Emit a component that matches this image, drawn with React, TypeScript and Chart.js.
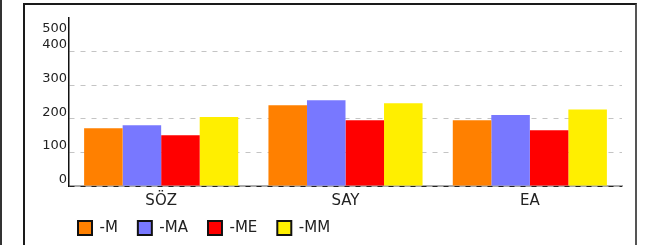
import React, { useEffect, useRef } from "react";
import { Chart, registerables } from "chart.js";

Chart.register(...registerables);

const categories = ["SÖZ", "SAY", "EA"];
const seriesNames = ["-M", "-MA", "-ME", "-MM"];
const seriesM = [172, 240, 196];
const seriesMA = [181, 255, 211];
const seriesME = [151, 196, 166];
const seriesMM = [205, 246, 228];
const seriesColors = ["#FF8000", "#7878FF", "#FF0000", "#FFEF00"];
const yMin = 0;
const yMax = 500;
const yStep = 100;

const FONT = "'DejaVu Sans', sans-serif";
const TEXT = "#222";

const legendPlacer = {
  id: "legendPlacer",
  afterLayout(chart: any) {
    const lg = chart.legend;
    if (!lg) return;
    const w = lg.right - lg.left;
    const h = lg.bottom - lg.top;
    lg.left = chart.chartArea.left - 11;
    lg.right = lg.left + w;
    lg.top = chart.chartArea.bottom + 14.5;
    lg.bottom = lg.top + h;
  },
};

export default function App() {
  const ref = useRef<HTMLCanvasElement | null>(null);

  useEffect(() => {
    const canvas = ref.current;
    if (!canvas) return;
    const values = [seriesM, seriesMA, seriesME, seriesMM];
    const chart = new Chart(canvas, {
      type: "bar",
      data: {
        labels: categories,
        datasets: values.map((v, i) => ({
          label: seriesNames[i],
          data: v,
          backgroundColor: seriesColors[i],
          borderWidth: 0,
          categoryPercentage: 0.836,
          barPercentage: 1.0,
        })),
      },
      plugins: [legendPlacer],
      options: {
        animation: false,
        responsive: false,
        devicePixelRatio: 1,
        layout: { padding: { left: 10, top: 13, right: 13, bottom: 12 } },
        plugins: {
          tooltip: { enabled: false },
          legend: {
            position: "bottom",
            align: "start",
            labels: {
              boxWidth: 14,
              boxHeight: 14,
              padding: 20,
              color: TEXT,
              font: { family: FONT, size: 15 },
              generateLabels: (ch: any) =>
                Chart.defaults.plugins.legend.labels
                  .generateLabels(ch)
                  .map((l: any) => ({ ...l, lineWidth: 2, strokeStyle: "#111" })),
            },
          },
        },
        scales: {
          x: {
            offset: true,
            grid: { display: false },
            border: { display: true, color: "#aaa", width: 2 },
            ticks: { color: TEXT, font: { family: FONT, size: 15 }, padding: -2 },
            afterFit: (s: any) => {
              s.height = 22;
              s.paddingLeft = 0;
              s.paddingRight = 0;
            },
          },
          y: {
            min: yMin,
            max: yMax,
            grid: {
              z: 0,
              drawTicks: false,
              color: (c: any) =>
                c.tick && c.tick.value === yMin
                  ? "#222"
                  : c.tick && c.tick.value === yMax
                  ? "rgba(0,0,0,0)"
                  : "#c4c4c4",
              lineWidth: (c: any) => (c.tick && c.tick.value === yMin ? 1 : 1),
            },
            border: { display: true, color: "#111", width: 1.5, dash: [5, 6] },
            ticks: {
              stepSize: yStep,
              autoSkip: false,
              color: TEXT,
              padding: 2,
              labelOffset: -6.5,
              font: { family: FONT, size: 13, lineHeight: "17px" },
              callback: (v: any) => (v === yMax ? ["", "", String(v)] : String(v)),
            },
            afterFit: (s: any) => {
              s.width = 34;
              s.paddingTop = 0;
              s.paddingBottom = 0;
            },
          },
        },
      },
    });
    return () => chart.destroy();
  }, []);

  return (
    <div
      style={{
        position: "fixed",
        left: 0,
        top: 0,
        width: 649,
        height: 245,
        overflow: "hidden",
        background: "#fff",
      }}
    >
      <div style={{ position: "absolute", left: 0, top: 0, width: 2, height: 245, background: "#333" }} />
      <div
        style={{
          position: "absolute",
          left: 23,
          top: 3,
          width: 614,
          height: 280,
          border: "2px solid #1a1a1a",
          borderRightColor: "#555",
          boxSizing: "border-box",
        }}
      />
      <div style={{ position: "absolute", left: 25, top: 5, width: 610, height: 260 }}>
        <canvas ref={ref} width={610} height={260} style={{ width: 610, height: 260, display: "block" }} />
      </div>
    </div>
  );
}
